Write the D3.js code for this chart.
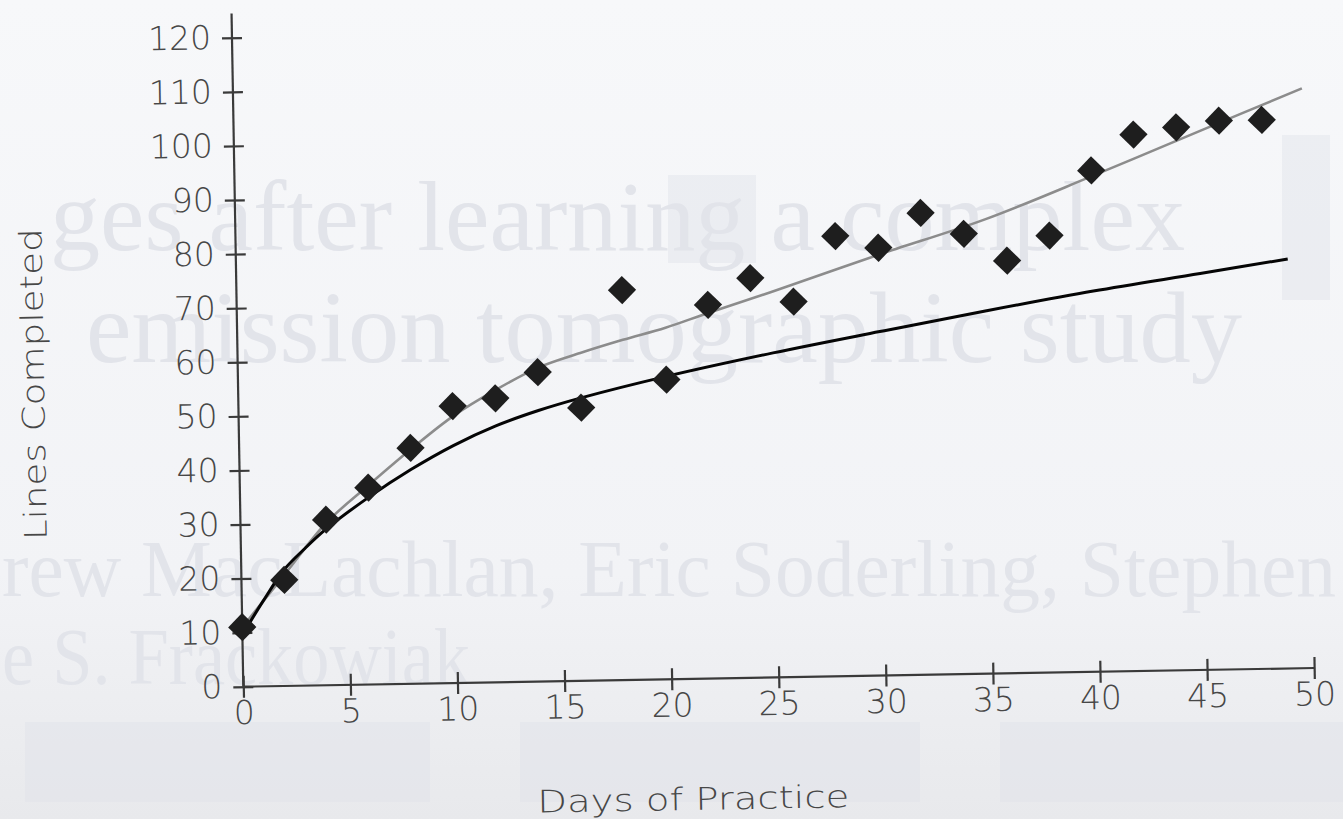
<!DOCTYPE html>
<html>
<head>
<meta charset="utf-8">
<script src="https://cdn.jsdelivr.net/npm/d3@7"></script>
<style>
  html, body { margin: 0; padding: 0; background: #f3f4f7; }
  svg { display: block; }
</style>
</head>
<body>
<svg id="chart" width="1343" height="819"></svg>
<script>
// Observed daily output: one reading every second day of practice
const practiceDays = [0, 2, 4, 6, 8, 10, 12, 14, 16, 18, 20, 22, 24, 26, 28, 30, 32, 34, 36, 38, 40, 42, 44, 46, 48];
const linesCompleted = [11, 19.6, 30.6, 36.4, 43.6, 51.2, 52.5, 57.2, 50.5, 72.1, 55.4, 69.1, 73.9, 69.4, 81.4, 79.1, 85.4, 81.4, 76.3, 80.8, 92.7, 99.2, 100.4, 101.5, 101.5];

// Smooth fit through the observations (grey curve)
const fitDays  = [0, 2, 4, 6, 8, 10, 12, 14, 16, 18, 20, 22, 25, 30, 35, 40, 45, 49.9];
const fitLines = [11, 20.5, 30, 36.8, 43.3, 49.3, 54, 58, 60.6, 62.9, 65, 67.6, 71.3, 77.8, 84, 91.6, 99.5, 107.2];

// Comparison curve (black)
const modelDays  = [0.3, 1, 2, 3, 4, 6, 8, 10, 12, 14, 16, 20, 25, 30, 35, 40, 45, 49.1];
const modelLines = [11.5, 15.8, 21.5, 25.4, 28.9, 34.6, 39.6, 43.9, 47.4, 50.1, 52.3, 56, 60, 63.6, 67.1, 70.4, 73.3, 75.7];

// Axis ticks
const xTicks = [0, 5, 10, 15, 20, 25, 30, 35, 40, 45, 50];
const yTicks = [0, 10, 20, 30, 40, 50, 60, 70, 80, 90, 100, 110, 120];

// Faint print from the facing page
const ghostText = [
  "ges after learning a complex",
  "emission tomographic study",
  "rew MacLachlan, Eric Soderling, Stephen",
  "e S. Frackowiak"
];

const W = 1343, H = 819;
const svg = d3.select("#chart");

// ---- paper ----
const defs = svg.append("defs");
const paper = defs.append("linearGradient").attr("id", "paper")
  .attr("x1", 0).attr("y1", 0).attr("x2", 0).attr("y2", 1);
paper.append("stop").attr("offset", "0%").attr("stop-color", "#f7f8fa");
paper.append("stop").attr("offset", "70%").attr("stop-color", "#f2f3f6");
paper.append("stop").attr("offset", "100%").attr("stop-color", "#e8e9ec");
svg.append("rect").attr("width", W).attr("height", H).attr("fill", "url(#paper)");

// show-through blocks and lettering
const ghost = svg.append("g").attr("pointer-events", "none");
const blocks = [
  [668, 175, 88, 88], [1282, 135, 48, 165],
  [25, 722, 405, 80], [520, 722, 400, 80], [1000, 722, 343, 80]
];
ghost.selectAll("rect.block").data(blocks).join("rect")
  .attr("class", "block")
  .attr("x", d => d[0]).attr("y", d => d[1])
  .attr("width", d => d[2]).attr("height", d => d[3])
  .attr("fill", "#dfe2e9").attr("opacity", 0.45);

const ghostPlace = [
  { x: 50, y: 250, size: 100, len: 1135 },
  { x: 86, y: 362, size: 102, len: 1156 },
  { x: 2,  y: 596, size: 80, len: 1334 },
  { x: 2,  y: 684, size: 80, len: 468 }
];
ghost.selectAll("text").data(ghostText).join("text")
  .attr("x", (d, i) => ghostPlace[i].x)
  .attr("y", (d, i) => ghostPlace[i].y)
  .attr("font-family", "'Liberation Serif', 'DejaVu Serif', serif")
  .attr("font-size", (d, i) => ghostPlace[i].size)
  .attr("textLength", (d, i) => ghostPlace[i].len)
  .attr("lengthAdjust", "spacingAndGlyphs")
  .attr("fill", "#e2e4ea")
  .text(d => d);

// ---- chart (the sheet sits slightly tilted) ----
const origin = [243.3, 686.7];
const tilt = -1.0;

const x = d3.scaleLinear().domain([0, 50]).range([0, 1071]);
const y = d3.scaleLinear().domain([0, 120]).range([0, -649]);

const g = svg.append("g").attr("transform", `translate(${origin[0]},${origin[1]}) rotate(${tilt})`);

const axisColor = "#3a3a3a";
const labelColor = "#474747";
const tickFont = "'DejaVu Sans', 'Open Sans', sans-serif";

// y axis
const yAxis = g.append("g")
  .call(d3.axisLeft(y).tickValues(yTicks).tickSize(10).tickPadding(11).tickSizeOuter(0));
yAxis.select(".domain").remove();
yAxis.append("line")
  .attr("x1", 0).attr("x2", 0).attr("y1", y(0)).attr("y2", y(124.5))
  .attr("stroke", axisColor).attr("stroke-width", 2.2);
yAxis.selectAll(".tick line").attr("x1", 10).attr("stroke", axisColor).attr("stroke-width", 2.2);
yAxis.selectAll(".tick text")
  .attr("font-family", tickFont).attr("font-weight", 200)
  .attr("font-size", 33).attr("fill", labelColor);

// x axis
const xAxis = g.append("g")
  .call(d3.axisBottom(x).tickValues(xTicks).tickSize(11).tickPadding(3).tickSizeOuter(0));
xAxis.select(".domain").remove();
xAxis.append("line")
  .attr("x1", x(0)).attr("x2", x(50)).attr("y1", 0).attr("y2", 0)
  .attr("stroke", axisColor).attr("stroke-width", 2.2);
xAxis.selectAll(".tick line").attr("y1", -11).attr("stroke", axisColor).attr("stroke-width", 2.2);
xAxis.selectAll(".tick text")
  .attr("font-family", tickFont).attr("font-weight", 200)
  .attr("font-size", 33).attr("fill", labelColor);

// axis titles
g.append("text")
  .attr("transform", "translate(-194,-306) rotate(-90)")
  .attr("text-anchor", "middle")
  .attr("font-family", tickFont).attr("font-weight", 200)
  .attr("font-size", 31).attr("fill", labelColor)
  .attr("textLength", 312).attr("lengthAdjust", "spacingAndGlyphs")
  .text("Lines Completed");

g.append("text")
  .attr("x", 448).attr("y", 131)
  .attr("text-anchor", "middle")
  .attr("font-family", tickFont).attr("font-weight", 200)
  .attr("font-size", 31).attr("fill", labelColor)
  .attr("textLength", 312).attr("lengthAdjust", "spacingAndGlyphs")
  .text("Days of Practice");

// curve generator shared by both fitted lines
const curveLine = d3.line().x(d => x(d[0])).y(d => y(d[1])).curve(d3.curveCatmullRom.alpha(0.5));

// grey fitted curve
g.append("path")
  .datum(d3.zip(fitDays, fitLines))
  .attr("d", curveLine)
  .attr("fill", "none").attr("stroke", "#8c8c8c").attr("stroke-width", 2.6);

// black comparison curve
g.append("path")
  .datum(d3.zip(modelDays, modelLines))
  .attr("d", curveLine)
  .attr("fill", "none").attr("stroke", "#050505").attr("stroke-width", 3);

// observed points as diamonds
const diamond = d3.symbol().type(d3.symbolSquare).size(400);
g.selectAll("path.obs").data(d3.zip(practiceDays, linesCompleted)).join("path")
  .attr("class", "obs")
  .attr("d", diamond)
  .attr("transform", d => `translate(${x(d[0])},${y(d[1])}) rotate(45)`)
  .attr("fill", "#1e1e1e");
</script>
</body>
</html>
